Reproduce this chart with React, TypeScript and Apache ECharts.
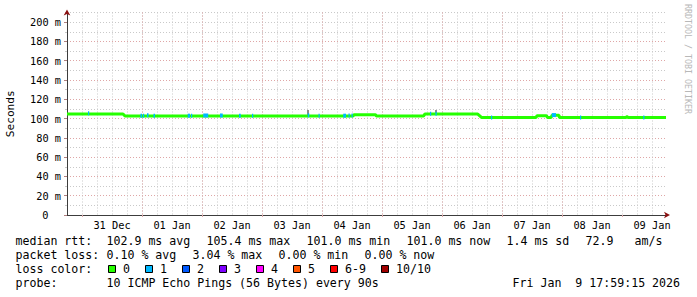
import React, { useEffect, useRef } from 'react';
import * as echarts from 'echarts';

const FONT = 'DejaVu Sans Mono';

// x values are hours since 30 Dec 00:00
const X_MIN = 18;
const X_MAX = 258;
const midnightHours = [24, 48, 72, 96, 120, 144, 168, 192, 216, 240];
const noonHours = [36, 60, 84, 108, 132, 156, 180, 204, 228, 252];
const dayLabels = ['31 Dec', '01 Jan', '02 Jan', '03 Jan', '04 Jan', '05 Jan', '06 Jan', '07 Jan', '08 Jan', '09 Jan'];

const yTicks = [0, 20, 40, 60, 80, 100, 120, 140, 160, 180, 200];
const yTickLabels = ['0', '20 m', '40 m', '60 m', '80 m', '100 m', '120 m', '140 m', '160 m', '180 m', '200 m'];

// median rtt (ms), loss 0
const medianHours = [18, 40.4, 41.2, 132.4, 132.8, 141.4, 141.8, 160.6, 161.2, 182.3, 183.9, 205.6, 206.0, 209.8, 210.2, 211.6, 212.0, 214.8, 215.0, 241.6, 241.8, 242.2, 242.4, 257.6];
const medianMs = [104.8, 104.8, 102.7, 102.7, 104.0, 104.0, 102.7, 102.7, 104.7, 104.7, 101.0, 101.0, 103.0, 103.0, 101.0, 101.0, 103.4, 103.4, 101.0, 101.0, 101.8, 101.8, 101.0, 101.0];

// segments with 1/10 loss
const loss1Start = [26.4, 47.4, 48.4, 50.0, 52.6, 66.3, 67.6, 72.5, 79.2, 86.8, 92.0, 114.3, 118.6, 128.5, 130.6, 131.8, 163.2, 165.4, 187.6, 211.9, 223.2, 248.5];
const loss1End = [26.8, 48.0, 48.8, 50.6, 53.2, 67.2, 68.0, 74.5, 80.3, 87.5, 92.4, 114.9, 119.0, 129.6, 131.0, 132.2, 163.6, 165.8, 188.0, 213.6, 223.6, 248.9];
const loss1Ms = [105.6, 103.0, 103.0, 103.4, 103.0, 103.0, 103.0, 103.2, 103.2, 102.8, 102.8, 103.4, 102.8, 103.0, 103.2, 103.2, 105.0, 105.0, 101.0, 103.6, 101.0, 101.0];

// smoke (ping spread)
const smokeHours = [114.4, 165.6];
const smokeLow = [103.0, 104.6];
const smokeHigh = [109.0, 108.8];

const lossLabels = ['0', '1', '2', '3', '4', '5', '6-9', '10/10'];
const lossColors = ['#26ff00', '#00b8ff', '#0059ff', '#7e00ff', '#ff00ff', '#ff5500', '#ff0000', '#a00000'];

const rttLabel = 'median rtt:';
const rttStats = ['102.9 ms avg', '105.4 ms max', '101.0 ms min', '101.0 ms now', '1.4 ms sd', '72.9', 'am/s'];
const lossLabel = 'packet loss:';
const lossStats = ['0.10 % avg', '3.04 % max', '0.00 % min', '0.00 % now'];
const colorLabel = 'loss color:';
const probeLabel = 'probe:';
const probeText = '10 ICMP Echo Pings (56 Bytes) every 90s';
const stampText = 'Fri Jan  9 17:59:15 2026';
const watermark = 'RRDTOOL / TOBI OETIKER';

const GRID_GREY = '#c9c9c9';
const GRID_RED = '#dfa6a6';
const AXIS_COL = '#3c3c3c';
const ARROW_COL = '#8b1010';

export default function App() {
  const ref = useRef<HTMLDivElement>(null);

  useEffect(() => {
    if (!ref.current) return;
    const chart = echarts.init(ref.current, undefined, { renderer: 'svg' });

    const medianData = medianHours.map((h, i) => [h, medianMs[i]]);
    const lossData = loss1Start.map((s, i) => [s, loss1End[i], loss1Ms[i]]);
    const smokeData = smokeHours.map((h, i) => [h, smokeLow[i], smokeHigh[i]]);

    const txt = (text: string, x: number, y: number, extra: any = {}) => ({
      type: 'text',
      x,
      y,
      silent: true,
      style: { text, fontFamily: FONT, fontSize: 11.6, fill: '#000', align: 'left', verticalAlign: 'middle', ...extra },
    });

    const rowY = [241, 255, 269, 283];
    const rttX = [107, 207, 307, 407, 507, 586, 635];
    const lossX = [107, 193, 279, 365];
    const graphics: any[] = [];
    graphics.push(txt(rttLabel, 15.5, rowY[0]));
    rttStats.forEach((s, i) => graphics.push(txt(s, rttX[i] - 0.5, rowY[0])));
    graphics.push(txt(lossLabel, 15.5, rowY[1]));
    lossStats.forEach((s, i) => graphics.push(txt(s, lossX[i] - 0.5, rowY[1])));
    graphics.push(txt(colorLabel, 15.5, rowY[2]));
    lossLabels.forEach((l, i) => {
      const bx = i < 7 ? 108.5 + i * 37 : 381.5;
      graphics.push({
        type: 'rect',
        silent: true,
        shape: { x: bx, y: rowY[2] - 3.5, width: 7, height: 7 },
        style: { fill: lossColors[i], stroke: '#000', lineWidth: 1 },
      });
      graphics.push(txt(l, bx + 14.5, rowY[2]));
    });
    graphics.push(txt(probeLabel, 15.5, rowY[3]));
    graphics.push(txt(probeText, 106.5, rowY[3]));
    graphics.push(txt(stampText, 512.5, rowY[3]));
    graphics.push({
      type: 'text',
      x: 688.3,
      y: 4,
      rotation: -Math.PI / 2,
      silent: true,
      style: { text: watermark, fontFamily: FONT, fontSize: 8.3, fill: '#b8b8b8', align: 'left', verticalAlign: 'middle' },
    });

    const dotted = (color: string) => ({ color, width: 1, type: [1, 2] as any });

    chart.setOption({
      animation: false,
      backgroundColor: '#ffffff',
      grid: { left: 67, right: 30, top: 12.5, bottom: 82, outerBoundsMode: 'none' },
      xAxis: [
        {
          type: 'value',
          min: X_MIN,
          max: X_MAX,
          interval: 6,
          position: 'bottom',
          axisLine: {
            show: true,
            onZero: false,
            lineStyle: { color: ARROW_COL, width: 1 },
            symbol: ['none', 'arrow'],
            symbolSize: [5, 6],
            symbolOffset: [0, 3],
          },
          axisTick: { show: false },
          axisLabel: { show: false },
          splitLine: { show: true, showMinLine: false, showMaxLine: false, lineStyle: dotted(GRID_GREY) },
        },
        {
          type: 'value',
          min: X_MIN,
          max: X_MAX,
          position: 'bottom',
          axisLine: { show: true, onZero: false, lineStyle: { color: AXIS_COL, width: 1 } },
          axisTick: { show: true, customValues: midnightHours, length: 2, lineStyle: { color: GRID_RED } },
          axisLabel: {
            show: true,
            customValues: noonHours,
            formatter: (v: number) => {
              const i = noonHours.indexOf(v);
              return i >= 0 ? dayLabels[i] : '';
            },
            fontFamily: FONT,
            fontSize: 10.3,
            color: '#000',
            margin: 5,
          },
          splitLine: { show: true, showMinLine: false, showMaxLine: false, lineStyle: dotted(GRID_RED) },
        },
      ],
      yAxis: [
        {
          type: 'value',
          min: 0,
          max: 210,
          interval: 10,
          position: 'left',
          axisLine: {
            show: true,
            onZero: false,
            lineStyle: { color: ARROW_COL, width: 1 },
            symbol: ['none', 'arrow'],
            symbolSize: [5, 6],
            symbolOffset: [0, 3],
          },
          axisTick: { show: true, length: 2, lineStyle: { color: GRID_GREY } },
          axisLabel: { show: false },
          splitLine: { show: true, showMinLine: false, lineStyle: dotted(GRID_GREY) },
        },
        {
          type: 'value',
          min: 0,
          max: 210,
          interval: 20,
          position: 'left',
          name: 'Seconds',
          nameLocation: 'middle',
          nameGap: 51,
          nameRotate: 90,
          nameTextStyle: { fontFamily: FONT, fontSize: 11.2, color: '#000' },
          axisLine: { show: true, onZero: false, lineStyle: { color: AXIS_COL, width: 1 } },
          axisTick: { show: true, customValues: yTicks, length: 3, lineStyle: { color: '#b08080' } },
          axisLabel: {
            show: true,
            customValues: yTicks,
            formatter: (v: number) => {
              const i = yTicks.indexOf(v);
              if (i < 0) return '';
              return v === 0 ? '{z|' + yTickLabels[i] + '}' : yTickLabels[i];
            },
            rich: { z: { fontFamily: FONT, fontSize: 10.3, color: '#000', padding: [0, 12.5, 0, 0] } },
            fontFamily: FONT,
            fontSize: 10.3,
            color: '#000',
            margin: 6,
          },
          splitLine: { show: true, showMinLine: false, showMaxLine: false, lineStyle: dotted(GRID_RED) },
        },
      ],
      series: [
        {
          type: 'custom',
          xAxisIndex: 0,
          yAxisIndex: 0,
          z: 2,
          silent: true,
          encode: { x: 0, y: [1, 2] },
          data: smokeData,
          renderItem: (params: any, api: any) => {
            const a = api.coord([api.value(0), api.value(1)]);
            const b = api.coord([api.value(0), api.value(2)]);
            return {
              type: 'rect',
              shape: { x: a[0] - 1, y: b[1], width: 2, height: a[1] - b[1] },
              style: { fill: '#8c8c8c' },
            };
          },
        },
        {
          type: 'line',
          xAxisIndex: 0,
          yAxisIndex: 0,
          z: 3,
          silent: true,
          showSymbol: false,
          data: medianData,
          lineStyle: { color: lossColors[0], width: 3 },
          itemStyle: { color: lossColors[0] },
        },
        {
          type: 'custom',
          xAxisIndex: 0,
          yAxisIndex: 0,
          z: 4,
          silent: true,
          encode: { x: [0, 1], y: 2 },
          data: lossData,
          renderItem: (params: any, api: any) => {
            const a = api.coord([api.value(0), api.value(2)]);
            const b = api.coord([api.value(1), api.value(2)]);
            return {
              type: 'rect',
              shape: { x: a[0], y: a[1] - 2, width: Math.max(b[0] - a[0], 1.2), height: 4 },
              style: { fill: lossColors[1] },
            };
          },
        },
      ],
      graphic: graphics,
    });

    return () => chart.dispose();
  }, []);

  return (
    <div
      ref={ref}
      style={{ position: 'fixed', left: 0, top: 0, width: 697, height: 297, background: '#fff' }}
    />
  );
}
